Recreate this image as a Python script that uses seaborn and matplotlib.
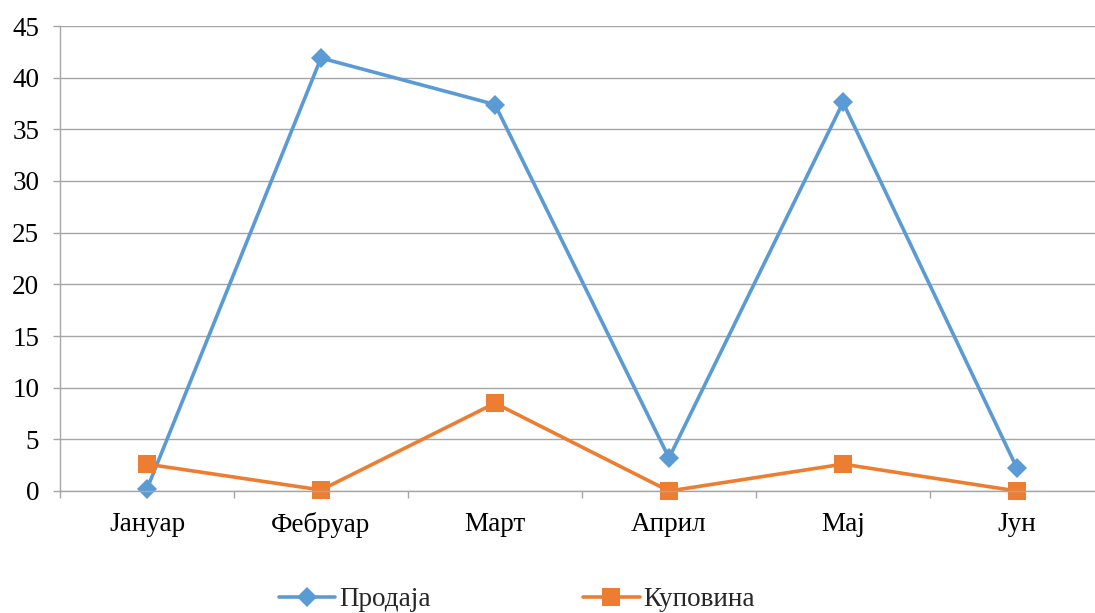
import matplotlib
matplotlib.use("Agg")
import matplotlib.pyplot as plt
import seaborn as sns
import pandas as pd
import numpy as np
from matplotlib.lines import Line2D

months = ["Јануар", "Фебруар", "Март", "Април", "Мај", "Јун"]
prodaja = [0.2, 41.9, 37.4, 3.2, 37.6, 2.2]
kupovina = [2.6, 0.1, 8.5, 0.0, 2.6, 0.0]
series_names = ["Продаја", "Куповина"]
colors = ["#5B9BD5", "#ED7D31"]

sns.set_theme(style="white")
plt.rcParams["font.family"] = ["Liberation Serif", "DejaVu Serif"]

df = pd.DataFrame({
    "x": list(range(len(months))) * 2,
    "value": prodaja + kupovina,
    "series": [series_names[0]] * len(months) + [series_names[1]] * len(months),
})

fig = plt.figure(figsize=(10.95, 6.13), dpi=100)
ax = fig.add_axes([60/1095, 122/613, 1044/1095, 465/613])

grid_c = "#A6A6A6"
ax.set_ylim(0, 45)
ax.set_xlim(-0.5, 5.5)
ax.set_yticks(np.arange(0, 46, 5))
ax.yaxis.grid(True, color=grid_c, linewidth=1.0)
ax.set_axisbelow(True)

sns.lineplot(data=df, x="x", y="value", hue="series", style="series",
             palette=dict(zip(series_names, colors)),
             markers={series_names[0]: "D", series_names[1]: "s"},
             dashes=False, sort=False, linewidth=2.6, markersize=10,
             markeredgewidth=0, ax=ax, legend=False)
for ln in ax.lines:
    if ln.get_marker() == "s":
        ln.set_markersize(12.5)
    ln.set_clip_on(False)

for s in ["top", "right"]:
    ax.spines[s].set_visible(False)
ax.spines["left"].set_color(grid_c)
ax.spines["bottom"].set_color(grid_c)
ax.spines["left"].set_linewidth(1.0)
ax.spines["bottom"].set_linewidth(1.0)

ax.set_xticks(range(len(months)))
ax.set_xticklabels(months)
ax.set_xticks(np.arange(-0.5, 5.0, 1.0), minor=True)
ax.tick_params(axis="x", which="major", length=0, pad=15, labelsize=19.5, labelcolor="black")
ax.tick_params(axis="x", which="minor", length=5, width=1.0, color=grid_c, direction="out", bottom=True)
ax.tick_params(axis="y", which="major", length=5, width=1.0, color=grid_c, direction="out",
               left=True, pad=10, labelsize=19.5, labelcolor="black")
ax.set_xlabel("")
ax.set_ylabel("")

handles = [
    Line2D([0], [0], color=colors[0], marker="D", markersize=10, linewidth=2.6, markeredgewidth=0),
    Line2D([0], [0], color=colors[1], marker="s", markersize=12.5, linewidth=2.6, markeredgewidth=0),
]
fig.legend(handles, series_names, loc="center", bbox_to_anchor=(0.472, 0.022), ncol=2,
           frameon=False, fontsize=19.5, columnspacing=5.6, handlelength=2.1, handletextpad=0.15)

fig.savefig("out.png", dpi=100)
